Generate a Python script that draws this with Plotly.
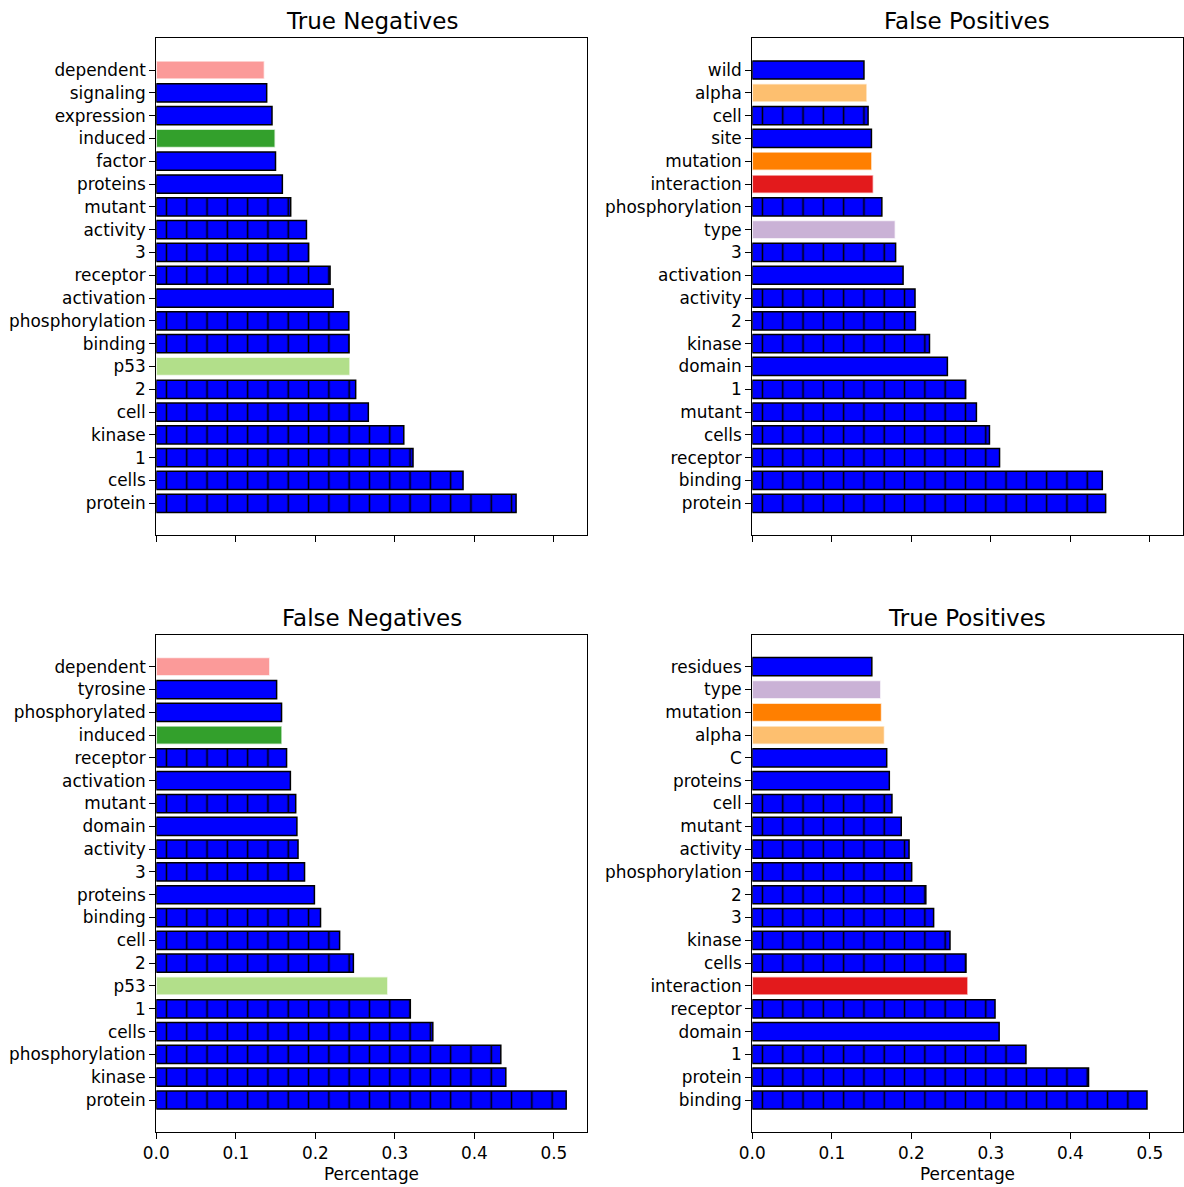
import plotly.graph_objects as go

# ---- data (bottom -> top) ----
tn_labels = ["protein", "cells", "1", "kinase", "cell", "2", "p53", "binding", "phosphorylation",
             "activation", "receptor", "3", "activity", "mutant", "proteins", "factor", "induced",
             "expression", "signaling", "dependent"]
tn_values = [0.4524, 0.3857, 0.3228, 0.3112, 0.2666, 0.2507, 0.2435, 0.2424, 0.2421,
             0.2224, 0.2185, 0.1916, 0.1888, 0.1690, 0.1585, 0.1499, 0.1494,
             0.1455, 0.1388, 0.1359]

fp_labels = ["protein", "binding", "receptor", "cells", "mutant", "1", "domain", "kinase", "2",
             "activity", "activation", "3", "type", "phosphorylation", "interaction", "mutation",
             "site", "cell", "alpha", "wild"]
fp_values = [0.4443, 0.4401, 0.3109, 0.2982, 0.2818, 0.2683, 0.2453, 0.2228, 0.2051,
             0.2046, 0.1896, 0.1802, 0.1798, 0.1629, 0.1522, 0.1503,
             0.1498, 0.1456, 0.1442, 0.1404]

fn_labels = ["protein", "kinase", "phosphorylation", "cells", "1", "p53", "2", "cell", "binding",
             "proteins", "3", "activity", "domain", "mutant", "activation", "receptor", "induced",
             "phosphorylated", "tyrosine", "dependent"]
fn_values = [0.5154, 0.4395, 0.4332, 0.3477, 0.3194, 0.2911, 0.2478, 0.2305, 0.2065,
             0.1988, 0.1864, 0.1782, 0.1768, 0.1753, 0.1686, 0.1638, 0.1580,
             0.1575, 0.1513, 0.1427]

tp_labels = ["binding", "protein", "1", "domain", "receptor", "interaction", "cells", "kinase", "3",
             "2", "phosphorylation", "activity", "mutant", "cell", "proteins", "C", "alpha",
             "mutation", "type", "residues"]
tp_values = [0.4963, 0.4228, 0.3441, 0.3104, 0.3052, 0.2711, 0.2687, 0.2486, 0.2280,
             0.2182, 0.2004, 0.1971, 0.1873, 0.1756, 0.1723, 0.1690, 0.1662,
             0.1625, 0.1615, 0.1503]

titles = ["True Negatives", "False Positives", "False Negatives", "True Positives"]
x_ticks = [0.0, 0.1, 0.2, 0.3, 0.4, 0.5]
x_title = "Percentage"

# ---- styles ----
special_colors = {
    "dependent": "#fb9a99", "induced": "#33a02c", "p53": "#b2df8a",
    "alpha": "#fdbf6f", "mutation": "#ff7f00", "interaction": "#e31a1c", "type": "#cab2d6",
}
hatched_words = {"protein", "cells", "1", "2", "3", "kinase", "cell", "binding",
                 "phosphorylation", "receptor", "activity", "mutant"}
BLUE = "#0000ff"
FONT = "DejaVu Sans"
TICK_SIZE = 16.9
TITLE_SIZE = 23.0

W, H = 1184, 1187
xdom = [[156.3 / W, 586.7 / W], [752.3 / W, 1182.7 / W]]
ydom = [[1 - 535.0 / H, 1 - 38.3 / H], [1 - 1131.7 / H, 1 - 635.0 / H]]

panels = [(tn_labels, tn_values), (fp_labels, fp_values),
          (fn_labels, fn_values), (tp_labels, tp_values)]

fig = go.Figure()
annotations = []
for i, (labels, values) in enumerate(panels):
    row, col = divmod(i, 2)
    n = i + 1
    xa = "x" if n == 1 else f"x{n}"
    ya = "y" if n == 1 else f"y{n}"

    # plain (non-hatched) bars
    plain = [(w, v) for w, v in zip(labels, values) if w not in hatched_words]
    pw = [w for w, _ in plain]
    pv = [v for _, v in plain]
    fig.add_trace(go.Bar(
        x=pv, y=pw, orientation="h", xaxis=xa, yaxis=ya, width=0.8,
        marker=dict(color=[special_colors.get(w, BLUE) for w in pw],
                    line=dict(color=["rgba(255,255,255,0.7)" if w in special_colors else "black"
                                     for w in pw], width=1.5)),
        showlegend=False, hoverinfo="x+y",
    ))
    # hatched bars
    hat = [(w, v) for w, v in zip(labels, values) if w in hatched_words]
    hw = [w for w, _ in hat]
    hv = [v for _, v in hat]
    fig.add_trace(go.Bar(
        x=hv, y=hw, orientation="h", xaxis=xa, yaxis=ya, width=0.8,
        marker=dict(color=BLUE, line=dict(color="black", width=1.5),
                    pattern=dict(shape="|", fgcolor="black", bgcolor=BLUE, fgopacity=1,
                                 size=20.3, solidity=0.075, fillmode="replace")),
        showlegend=False, hoverinfo="x+y",
    ))

    axkey_x = "xaxis" if n == 1 else f"xaxis{n}"
    axkey_y = "yaxis" if n == 1 else f"yaxis{n}"
    fig.layout[axkey_x] = dict(
        domain=xdom[col], anchor=ya, range=[0, 0.5412], tickvals=x_ticks,
        ticktext=[f"{v:.1f}" for v in x_ticks], showticklabels=(row == 1),
        ticks="outside", ticklen=6, tickwidth=1.3, tickcolor="black",
        showline=True, linecolor="black", linewidth=1.3, mirror=True,
        showgrid=False, zeroline=False, automargin=False,
        tickfont=dict(family=FONT, size=TICK_SIZE, color="black"),
        title=dict(text=x_title if row == 1 else "",
                   font=dict(family=FONT, size=TICK_SIZE, color="black"), standoff=6),
    )
    fig.layout[axkey_y] = dict(
        domain=ydom[row], anchor=xa, type="category", categoryorder="array",
        categoryarray=labels, range=[-1.39, 20.39],
        ticks="outside", ticklen=6, tickwidth=1.3, tickcolor="black",
        showline=True, linecolor="black", linewidth=1.3, mirror=True,
        showgrid=False, zeroline=False, automargin=False, ticklabelstandoff=0,
        tickfont=dict(family=FONT, size=TICK_SIZE, color="black"),
    )
    annotations.append(dict(
        text=titles[i], x=(xdom[col][0] + xdom[col][1]) / 2, y=ydom[row][1],
        xref="paper", yref="paper", xanchor="center", yanchor="bottom", yshift=2,
        showarrow=False, font=dict(family=FONT, size=TITLE_SIZE, color="black"),
    ))

fig.update_layout(
    width=W, height=H, margin=dict(l=0, r=0, t=0, b=0),
    paper_bgcolor="white", plot_bgcolor="white", barmode="overlay",
    annotations=annotations, font=dict(family=FONT, color="black"),
)
fig.write_html("out.html", config={"displayModeBar": False},
               post_script="document.body.style.margin='0px';")
